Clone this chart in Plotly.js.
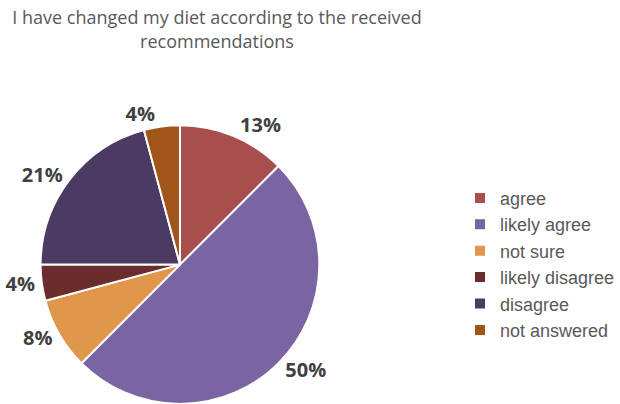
<!DOCTYPE html>
<html>
<head>
<meta charset="utf-8">
<script src="https://cdn.plot.ly/plotly-3.0.1.min.js"></script>
<style>
  html, body { margin: 0; padding: 0; background: #ffffff; }
  #chart { width: 620px; height: 404px; }
</style>
</head>
<body>
<div id="chart"></div>
<script>
// survey answers (counts)
const answers = ['agree', 'likely agree', 'not sure', 'likely disagree', 'disagree', 'not answered'];
const counts = [3, 12, 2, 1, 5, 1];
const sliceColors = ['#A84F4E', '#7A64A1', '#E0964B', '#6A2C2C', '#4B3A62', '#A0561A'];

const trace = {
    type: 'pie',
    labels: answers,
    values: counts,
    sort: false,
    direction: 'clockwise',
    rotation: 0,
    marker: { colors: sliceColors, line: { color: '#ffffff', width: 2 } },
    textposition: 'outside',
    texttemplate: '<b>%{percent:.0%}</b>',
    outsidetextfont: { family: 'Open Sans, sans-serif', size: 20, color: '#404040' },
    domain: { x: [0.068, 0.536], y: [0, 0.69] },
    automargin: false
};

const layout = {
    width: 620,
    height: 404,
    margin: { l: 0, r: 0, t: 0, b: 0 },
    paper_bgcolor: '#ffffff',
    title: {
        text: 'I have changed my diet according to the received<br>recommendations',
        font: { family: 'Open Sans, sans-serif', size: 18, color: '#595959' },
        x: 0.35, xanchor: 'center',
        y: 0.94, yanchor: 'top'
    },
    showlegend: true,
    legend: {
        x: 0.772, xanchor: 'left',
        y: 0.346, yanchor: 'middle',
        font: { family: 'Liberation Sans, Arial, sans-serif', size: 18, color: '#595959' },
        bgcolor: 'rgba(0,0,0,0)'
    }
};

Plotly.newPlot('chart', [trace], layout, { displayModeBar: false, staticPlot: true });
</script>
</body>
</html>
